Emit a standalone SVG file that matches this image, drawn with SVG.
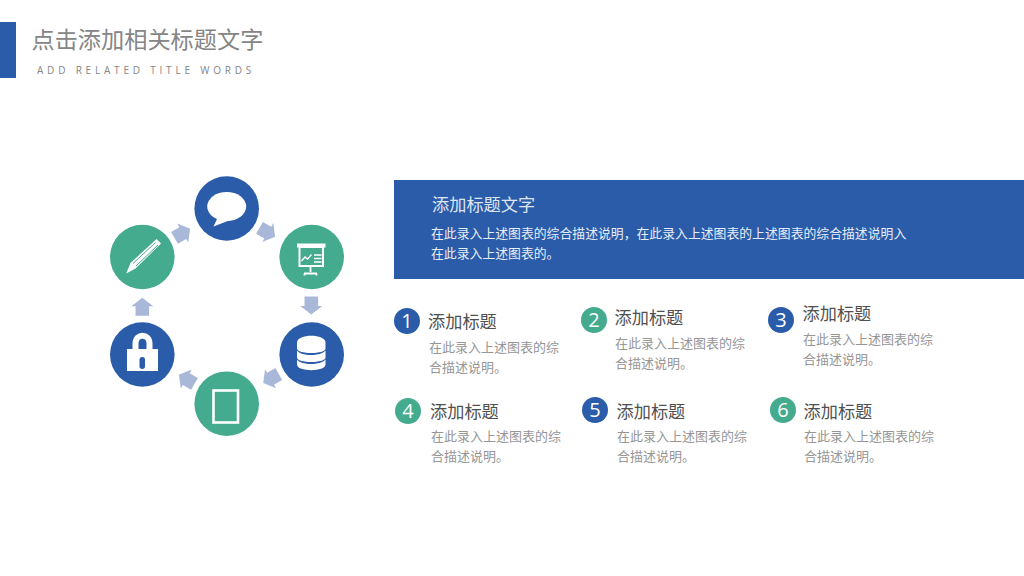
<svg xmlns="http://www.w3.org/2000/svg" width="1024" height="576" viewBox="0 0 1024 576">
<style>
text{font-family:"Noto Sans CJK SC","Noto Sans",sans-serif}
.blue{fill:#2a5caa}
.green{fill:#45ab8e}
.arrow{fill:#a9b7d8}
.ico{fill:#fff}
.icl{fill:none;stroke:#fff}
.h{font-size:17.2px;fill:#505050}
.d{font-size:13px;fill:#969696}
.n{font-size:20px;fill:#fff;text-anchor:middle;font-family:"Open Sans","Noto Sans",sans-serif}
</style>
<defs>
<polygon id="arr" points="-6.8,-9 6.8,-9 6.8,0.500 11,0.500 0,9 -11,0.500 -6.800,0.500"/>
</defs>
<rect width="1024" height="576" fill="#fff"/>
<g id="header">
<rect class="blue" x="0" y="22" width="16" height="56"/>
<text x="31.500" y="48" font-size="23.2" fill="#858585">点击添加相关标题文字</text>
<text x="37" y="74" font-size="10" fill="#858585" letter-spacing="3.8" style="font-family:'Open Sans','Noto Sans',sans-serif">ADD RELATED TITLE WORDS</text>
</g>
<g id="connectors" class="arrow">
<use href="#arr" transform="translate(267.3 232.3) rotate(-60)"/>
<use href="#arr" transform="translate(311.3 305.5)"/>
<use href="#arr" transform="translate(271 378.5) rotate(60)"/>
<use href="#arr" transform="translate(186.7 379.3) rotate(120)"/>
<use href="#arr" transform="translate(142.3 306.7) rotate(180)"/>
<use href="#arr" transform="translate(182.3 233.3) rotate(240)"/>
</g>
<g id="node-chat">
<circle class="blue" cx="226.7" cy="208.5" r="32.3"/>
<ellipse class="ico" cx="226.7" cy="206.500" rx="19.500" ry="14.500"/>
<path class="ico" d="M218 217L213.500 226.500L233 219Z"/>
</g>
<g id="node-presentation">
<circle class="green" cx="311.7" cy="257" r="32.3"/>
<rect class="ico" x="297" y="243.500" width="28.500" height="4"/>
<rect x="299.500" y="247" width="23.500" height="19" fill="none" stroke="#fff" stroke-width="2"/>
<path class="icl" stroke-width="1.3" d="M301.500 261L305 257L307.500 259L311.500 254.500M314 255H321.500M314 258.500H321.500M314 262H321.500"/>
<path class="icl" stroke-width="1.8" d="M310.500 266V272M304 273.500H317M304.500 273.500V275.500M316.500 273.500V275.500"/>
</g>
<g id="node-database">
<circle class="blue" cx="311.7" cy="354.5" r="32.3"/>
<path class="ico" d="M297 342.500C297 333.500 325.500 333.500 325.500 342.500V348.500C325.500 354.500 297 354.500 297 348.500Z"/>
<path class="ico" d="M297 350.500C301 356.500 321 356.500 325.500 350.500V357.500C325.500 363.500 297 363.500 297 357.500Z"/>
<path class="ico" d="M297 359.500C301 365.500 321 365.500 325.500 359.500V364.500C325.500 372 297 372 297 364.500Z"/>
</g>
<g id="node-tablet">
<circle class="green" cx="226.7" cy="403.7" r="32.3"/>
<rect x="213.500" y="390.500" width="24.500" height="32" fill="none" stroke="#fff" stroke-width="2.6"/>
</g>
<g id="node-lock">
<circle class="blue" cx="142.3" cy="354.5" r="32.3"/>
<path class="ico" d="M127 349H158V371H127Z"/>
<path class="icl" stroke-width="6" d="M135.500 350V343.500C135.500 333 149.500 333 149.500 343.500V350"/>
<rect class="blue" x="139.500" y="357" width="5.500" height="12" rx="2.700"/>
</g>
<g id="node-pencil">
<circle class="green" cx="142.3" cy="257" r="32.3"/>
<path class="ico" d="M126.200 273.500L130.500 263L156.500 239L161 243.500L135.500 268.500Z"/>
<path d="M133 263.500L155.500 242.500M136 266L158 245" fill="none" style="stroke:#45ab8e" stroke-width="1"/>
</g>
<g id="banner">
<rect class="blue" x="394" y="180" width="630" height="99"/>
<text x="432" y="211" font-size="17.2" fill="#dfe6f2">添加标题文字</text>
<text x="431" y="238" font-size="12.85" fill="#e8edf6">在此录入上述图表的综合描述说明，在此录入上述图表的上述图表的综合描述说明入</text>
<text x="431" y="258" font-size="12.85" fill="#e8edf6">在此录入上述图表的。</text>
</g>
<g id="item-1">
<circle class="blue" cx="407" cy="321" r="13"/><text class="n" x="407" y="328">1</text>
<text class="h" x="428" y="327.500">添加标题</text>
<text class="d" x="429" y="352">在此录入上述图表的综</text><text class="d" x="429" y="372">合描述说明。</text>
</g>
<g id="item-2">
<circle class="green" cx="594" cy="320" r="13"/><text class="n" x="594" y="327">2</text>
<text class="h" x="614.500" y="323.500">添加标题</text>
<text class="d" x="615" y="348">在此录入上述图表的综</text><text class="d" x="615" y="368">合描述说明。</text>
</g>
<g id="item-3">
<circle class="blue" cx="781" cy="320" r="13"/><text class="n" x="781" y="327">3</text>
<text class="h" x="802.500" y="319.500">添加标题</text>
<text class="d" x="803" y="344">在此录入上述图表的综</text><text class="d" x="803" y="364">合描述说明。</text>
</g>
<g id="item-4">
<circle class="green" cx="408" cy="411" r="13"/><text class="n" x="408" y="418">4</text>
<text class="h" x="430" y="417.500">添加标题</text>
<text class="d" x="431" y="441">在此录入上述图表的综</text><text class="d" x="431" y="461">合描述说明。</text>
</g>
<g id="item-5">
<circle class="blue" cx="595" cy="410" r="13"/><text class="n" x="595" y="417">5</text>
<text class="h" x="616.500" y="417.500">添加标题</text>
<text class="d" x="617" y="441">在此录入上述图表的综</text><text class="d" x="617" y="461">合描述说明。</text>
</g>
<g id="item-6">
<circle class="green" cx="783" cy="410" r="13"/><text class="n" x="783" y="417">6</text>
<text class="h" x="803.500" y="417.500">添加标题</text>
<text class="d" x="804" y="441">在此录入上述图表的综</text><text class="d" x="804" y="461">合描述说明。</text>
</g>
</svg>
